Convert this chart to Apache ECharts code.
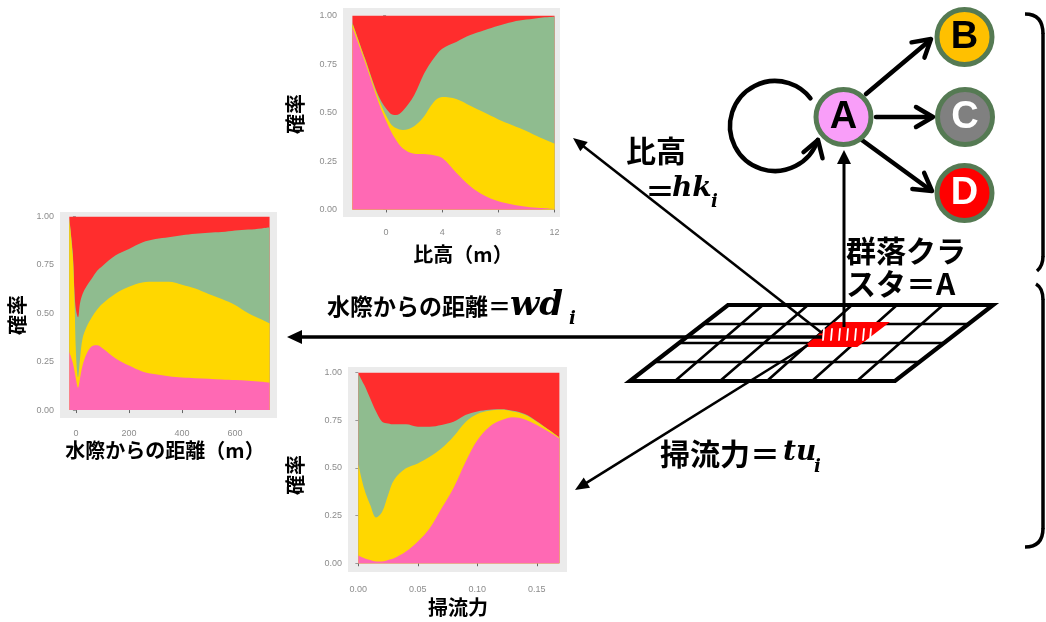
<!DOCTYPE html>
<html>
<head>
<meta charset="utf-8">
<script src="https://cdn.jsdelivr.net/npm/echarts@6/dist/echarts.min.js"></script>
<style>
  html, body { margin: 0; padding: 0; background: #ffffff; }
  #wrap { position: relative; width: 1046px; height: 622px; }
  #panels, #diagram { position: absolute; left: 0; top: 0; width: 1046px; height: 622px; }
  #panels { filter: blur(0.6px); }
</style>
</head>
<body>
<div id="wrap">
  <div id="panels"></div>
  <div id="diagram"></div>
</div>
<script>
// ---- 群落クラスタ A〜D の出現確率（各地点で合計 1） ----

// 比高 (m)
const hkX = [-2.4, -1.5, -0.5, 0.3, 0.7, 1.2, 2, 2.7, 3.4, 4, 5, 6, 7, 8, 9, 10, 11, 12];
const hkA = [0.94, 0.76, 0.545, 0.41, 0.36, 0.315, 0.288, 0.286, 0.28, 0.265, 0.19, 0.12, 0.072, 0.042, 0.025, 0.014, 0.008, 0.005];
const hkB = [0.02, 0.015, 0.02, 0.035, 0.06, 0.095, 0.142, 0.194, 0.275, 0.315, 0.38, 0.415, 0.428, 0.423, 0.41, 0.391, 0.362, 0.335];
const hkC = [0.005, 0.005, 0.015, 0.05, 0.067, 0.10, 0.16, 0.22, 0.225, 0.25, 0.295, 0.365, 0.425, 0.483, 0.533, 0.575, 0.62, 0.655];
const hkD = [0.035, 0.22, 0.42, 0.505, 0.513, 0.49, 0.41, 0.30, 0.22, 0.17, 0.135, 0.10, 0.075, 0.052, 0.032, 0.02, 0.01, 0.005];

// 水際からの距離 (m)
const wdX = [-25, -12, -5, 0, 8, 15, 25, 40, 60, 80, 100, 150, 200, 250, 300, 350, 400, 450, 500, 550, 600, 650, 700, 730];
const wdA = [0.30, 0.246, 0.20, 0.16, 0.115, 0.16, 0.23, 0.29, 0.33, 0.335, 0.32, 0.267, 0.23, 0.20, 0.185, 0.175, 0.168, 0.165, 0.162, 0.158, 0.155, 0.151, 0.146, 0.141];
const wdB = [0.69, 0.554, 0.35, 0.14, 0.055, 0.10, 0.14, 0.14, 0.15, 0.185, 0.23, 0.336, 0.407, 0.46, 0.479, 0.489, 0.48, 0.463, 0.438, 0.416, 0.388, 0.349, 0.322, 0.307];
const wdC = [0.0, 0.02, 0.05, 0.22, 0.31, 0.29, 0.23, 0.21, 0.20, 0.20, 0.195, 0.197, 0.196, 0.206, 0.22, 0.23, 0.256, 0.284, 0.317, 0.346, 0.385, 0.433, 0.471, 0.497];
const wdD = [0.01, 0.18, 0.40, 0.48, 0.52, 0.45, 0.40, 0.36, 0.32, 0.28, 0.255, 0.20, 0.167, 0.134, 0.116, 0.106, 0.096, 0.088, 0.083, 0.08, 0.072, 0.067, 0.061, 0.055];

// 掃流力
const tuX = [0, 0.005, 0.01, 0.015, 0.02, 0.025, 0.03, 0.04, 0.05, 0.06, 0.07, 0.08, 0.09, 0.10, 0.11, 0.12, 0.13, 0.14, 0.15, 0.16, 0.169];
const tuA = [0.04, 0.026, 0.017, 0.009, 0.009, 0.017, 0.026, 0.061, 0.114, 0.184, 0.288, 0.395, 0.53, 0.645, 0.715, 0.75, 0.766, 0.755, 0.725, 0.69, 0.655];
const tuB = [0.48, 0.364, 0.289, 0.231, 0.261, 0.341, 0.411, 0.437, 0.41, 0.375, 0.315, 0.27, 0.21, 0.138, 0.085, 0.055, 0.031, 0.025, 0.018, 0.01, 0.004];
const tuC = [0.475, 0.545, 0.559, 0.555, 0.473, 0.376, 0.292, 0.231, 0.193, 0.158, 0.123, 0.077, 0.038, 0.014, 0.006, 0.003, 0.003, 0.003, 0.002, 0.0, 0.001];
const tuD = [0.005, 0.065, 0.135, 0.205, 0.257, 0.266, 0.271, 0.271, 0.283, 0.283, 0.274, 0.258, 0.222, 0.203, 0.194, 0.192, 0.20, 0.217, 0.255, 0.30, 0.34];

// 目盛り
const probTicks = [0, 0.25, 0.5, 0.75, 1];
const hkTicks = [0, 4, 8, 12];
const wdTicks = [0, 200, 400, 600];
const tuTicks = [0, 0.05, 0.10, 0.15];

// クラスタ名
const clusterNames = ['A', 'B', 'C', 'D'];

// ---- style ----
const areaColors = { A: '#ff69b4', B: '#ffd700', C: '#8fbc8f', D: '#ff2d2d' };
const panelBg = '#ebebeb';
const tickColor = '#8c8c8c';
const jpFont = '"Noto Sans CJK JP", "Noto Sans", sans-serif';
const mathFont = '"DejaVu Serif", "Liberation Serif", serif';
const latinFont = '"Liberation Sans", Arial, sans-serif';

// panels: grid rectangles and axis extents (a little padding around the data)
const panels = [
  { x: hkX, layers: [hkA, hkB, hkC, hkD], ticks: hkTicks, fmt: v => String(v), xMargin: 11,
    grid: { left: 343, top: 8, width: 217, height: 209 }, xMin: -3.07, xMax: 12.39, yMin: -0.039, yMax: 1.04 },
  { x: wdX, layers: [wdA, wdB, wdC, wdD], ticks: wdTicks, fmt: v => String(v), xMargin: 11,
    grid: { left: 60, top: 212, width: 217, height: 206 }, xMin: -60, xMax: 758, yMin: -0.041, yMax: 1.024 },
  { x: tuX, layers: [tuA, tuB, tuC, tuD], ticks: tuTicks, fmt: v => v.toFixed(2), xMargin: 13,
    grid: { left: 348, top: 367, width: 219, height: 205 }, xMin: -0.0087, xMax: 0.1754, yMin: -0.046, yMax: 1.03 }
];

const grids = [], xAxes = [], yAxes = [], series = [];
panels.forEach((p, gi) => {
  grids.push(Object.assign({ show: true, backgroundColor: panelBg, borderWidth: 0, containLabel: false }, p.grid));
  xAxes.push({
    type: 'value', gridIndex: gi, min: p.xMin, max: p.xMax,
    axisLine: { show: false }, splitLine: { show: false },
    axisTick: { show: true, customValues: p.ticks, length: 3, lineStyle: { color: '#666', width: 1 } },
    axisLabel: { customValues: p.ticks, formatter: p.fmt, color: tickColor, fontSize: 9, margin: p.xMargin, fontFamily: latinFont }
  });
  yAxes.push({
    type: 'value', gridIndex: gi, min: p.yMin, max: p.yMax,
    axisLine: { show: false }, splitLine: { show: false },
    axisTick: { show: true, customValues: probTicks, length: 3, lineStyle: { color: '#999', width: 1 } },
    axisLabel: { customValues: probTicks, formatter: v => v.toFixed(2), color: tickColor, fontSize: 9, margin: 6, fontFamily: latinFont }
  });
  // cumulative shares: A at the bottom, D on top
  const cum = [];
  let run = p.x.map(() => 0);
  p.layers.forEach(layer => {
    run = run.map((v, k) => v + layer[k]);
    cum.push(run.slice());
  });
  // draw the top band first so lower bands paint over it
  for (let li = cum.length - 1; li >= 0; li--) {
    const name = clusterNames[li];
    series.push({
      type: 'line', name: name, xAxisIndex: gi, yAxisIndex: gi,
      data: p.x.map((xv, k) => [xv, cum[li][k]]),
      symbol: 'none', smooth: 0.35, silent: true, animation: false,
      lineStyle: { width: 0 },
      areaStyle: { color: areaColors[name], opacity: 1 }
    });
  }
});

// ---- diagram helpers ----
const black = '#000000';
function seg(x1, y1, x2, y2, w, color) {
  return { type: 'line', shape: { x1, y1, x2, y2 }, style: { stroke: color || black, lineWidth: w, lineCap: 'round' }, silent: true };
}
// straight arrow with filled triangular head
function solidArrow(fx, fy, tx, ty, w, len, half) {
  const L = Math.hypot(tx - fx, ty - fy), ux = (tx - fx) / L, uy = (ty - fy) / L;
  const bx = tx - ux * len, by = ty - uy * len;
  return [
    { type: 'line', shape: { x1: fx, y1: fy, x2: bx + ux * 2, y2: by + uy * 2 }, style: { stroke: black, lineWidth: w }, silent: true },
    { type: 'polygon', shape: { points: [[tx, ty], [bx - uy * half, by + ux * half], [bx + uy * half, by - ux * half]] }, style: { fill: black }, silent: true }
  ];
}
// open chevron head pointing along (dx, dy)
function chevron(tx, ty, dx, dy, len, half, w) {
  const L = Math.hypot(dx, dy), ux = dx / L, uy = dy / L;
  const bx = tx - ux * len, by = ty - uy * len;
  return { type: 'polyline', shape: { points: [[bx - uy * half, by + ux * half], [tx, ty], [bx + uy * half, by - ux * half]] },
           style: { stroke: black, lineWidth: w, lineCap: 'round', lineJoin: 'round', fill: null }, silent: true };
}
function txt(text, x, y, size, opts) {
  opts = opts || {};
  return {
    type: 'text', x, y, rotation: opts.rotation || 0, silent: true,
    style: {
      text, fill: opts.fill || black, fontSize: size, fontWeight: opts.weight || 'bold',
      fontStyle: opts.italic ? 'italic' : 'normal', fontFamily: opts.family || jpFont,
      textAlign: opts.align || 'left', textVerticalAlign: 'middle'
    }
  };
}
const math = { family: mathFont, italic: true };

const g = [];

// sampling grid (parallelogram)
const gridTop = 305, gridBot = 381;
const topXs = [728, 763, 808, 852, 897, 943, 993];
const botXs = [630, 675, 720, 767, 812, 857, 895];
const rowYs = [324, 343, 362];
for (let i = 1; i < topXs.length - 1; i++) g.push(seg(topXs[i], gridTop, botXs[i], gridBot, 2.6));
rowYs.forEach(y => {
  const t = (y - gridTop) / (gridBot - gridTop);
  g.push(seg(728 + (630 - 728) * t, y, 993 + (895 - 993) * t, y, 2.6));
});
g.push({ type: 'polygon', shape: { points: [[728, gridTop], [993, gridTop], [895, gridBot], [630, gridBot]] },
         style: { stroke: black, lineWidth: 4.2, fill: null, lineJoin: 'miter' }, silent: true });

// highlighted cell i
g.push({ type: 'polygon', shape: { points: [[834, 323], [887, 323], [857, 346], [806, 346]] },
         style: { fill: '#ff0000', stroke: '#ff0000', lineWidth: 2 }, silent: true });
[824, 832, 840, 848, 856, 864, 871].forEach(x => g.push(seg(x, 329, x - 1, 340, 1.8, '#ffffff')));

// arrows from cell to each covariate panel
solidArrow(822, 333, 573, 138, 2.6, 14, 6).forEach(e => g.push(e));
solidArrow(822, 337, 287, 337, 3.6, 15, 7).forEach(e => g.push(e));
solidArrow(808, 345, 575, 490, 2.6, 14, 6).forEach(e => g.push(e));
solidArrow(844, 327, 844, 150, 3, 14, 7).forEach(e => g.push(e));

// transitions from cluster A
g.push(seg(866, 94, 929, 41, 4.5));
g.push(chevron(931, 39, 65, -55, 17, 10, 4.5));
g.push(seg(876, 117, 930, 117, 4.5));
g.push(chevron(933, 117, 1, 0, 17, 10, 4.5));
g.push(seg(855, 135, 929, 189, 4.5));
g.push(chevron(932, 191, 74, 54, 17, 10, 4.5));

// self transition A -> A
g.push({ type: 'arc', shape: { cx: 775, cy: 126, r: 45, startAngle: 18 * Math.PI / 180, endAngle: 322 * Math.PI / 180, clockwise: true },
         style: { stroke: black, lineWidth: 4.5, fill: null, lineCap: 'round' }, silent: true });
g.push(chevron(818, 140, 0.31, -0.95, 16, 10, 4.5));

// cluster nodes
const nodes = [
  { k: 'A', x: 843.5, y: 117, fill: '#f99ef9', text: '#000000' },
  { k: 'B', x: 964.5, y: 37, fill: '#ffc000', text: '#000000' },
  { k: 'C', x: 965, y: 117, fill: '#808080', text: '#ffffff' },
  { k: 'D', x: 964.5, y: 193, fill: '#ff0000', text: '#ffffff' }
];
nodes.forEach(n => {
  g.push({ type: 'circle', shape: { cx: n.x, cy: n.y, r: 27.5 }, style: { fill: n.fill, stroke: '#557a53', lineWidth: 5 }, silent: true });
  g.push(txt(n.k, n.x, n.y + 1, 38, { family: latinFont, align: 'center', fill: n.text }));
});

// right-hand braces
g.push({ type: 'bezierCurve', shape: { x1: 1025, y1: 14, cpx1: 1043, cpy1: 14, x2: 1043, y2: 34 }, style: { stroke: black, lineWidth: 3.5, fill: null }, silent: true });
g.push(seg(1043, 34, 1043, 256, 3.5));
g.push({ type: 'bezierCurve', shape: { x1: 1043, y1: 256, cpx1: 1043, cpy1: 266, x2: 1037, y2: 271 }, style: { stroke: black, lineWidth: 3.5, fill: null }, silent: true });
g.push({ type: 'bezierCurve', shape: { x1: 1036, y1: 284, cpx1: 1043, cpy1: 288, x2: 1043, y2: 300 }, style: { stroke: black, lineWidth: 3.5, fill: null }, silent: true });
g.push(seg(1043, 300, 1043, 528, 3.5));
g.push({ type: 'bezierCurve', shape: { x1: 1043, y1: 528, cpx1: 1043, cpy1: 547, x2: 1025, y2: 547 }, style: { stroke: black, lineWidth: 3.5, fill: null }, silent: true });

// covariate labels
g.push(txt('比高', 626, 151, 30));
g.push(txt('＝', 645, 191, 30));
g.push(txt('hk', 672, 189, 28, math));
g.push(txt('i', 711, 202, 18, math));

g.push(txt('水際からの距離＝', 327, 306, 23));
g.push(txt('wd', 510, 306, 34, math));
g.push(txt('i', 569, 319, 18, math));

g.push(txt('掃流力＝', 660, 454, 30));
g.push(txt('tu', 783, 453, 28, math));
g.push(txt('i', 814, 467, 18, math));

g.push(txt('群落クラ', 846, 251, 30));
g.push(txt('スタ＝A', 846, 284, 30));

// axis titles of the three panels
g.push(txt('比高（m）', 463, 254, 20, { align: 'center' }));
g.push(txt('水際からの距離（m）', 165, 450, 20, { align: 'center' }));
g.push(txt('掃流力', 458, 607, 20, { align: 'center' }));
g.push(txt('確率', 295, 114, 20, { align: 'center', rotation: Math.PI / 2 }));
g.push(txt('確率', 17, 315, 20, { align: 'center', rotation: Math.PI / 2 }));
g.push(txt('確率', 295, 475, 20, { align: 'center', rotation: Math.PI / 2 }));

const panelChart = echarts.init(document.getElementById('panels'), null, { renderer: 'canvas' });
panelChart.setOption({
  animation: false,
  backgroundColor: '#ffffff',
  grid: grids,
  xAxis: xAxes,
  yAxis: yAxes,
  series: series
});

const diagramChart = echarts.init(document.getElementById('diagram'), null, { renderer: 'canvas' });
diagramChart.setOption({
  animation: false,
  backgroundColor: 'transparent',
  graphic: { elements: g }
});
</script>
</body>
</html>
